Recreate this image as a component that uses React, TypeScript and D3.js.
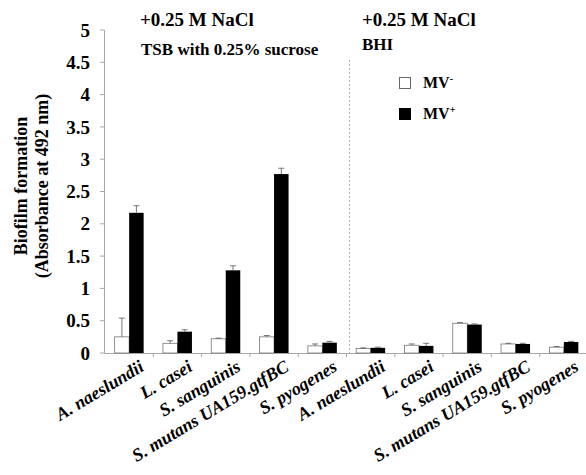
import React from "react";
import * as d3 from "d3";

const categories = [
  "A. naeslundii",
  "L. casei",
  "S. sanguinis",
  "S. mutans UA159.gtfBC",
  "S. pyogenes",
  "A. naeslundii",
  "L. casei",
  "S. sanguinis",
  "S. mutans UA159.gtfBC",
  "S. pyogenes",
];
const mvMinus = [0.25, 0.15, 0.22, 0.25, 0.11, 0.07, 0.12, 0.46, 0.14, 0.09];
const mvMinusErr = [0.29, 0.04, 0.01, 0.02, 0.03, 0.01, 0.02, 0.01, 0.01, 0.01];
const mvPlus = [2.17, 0.33, 1.28, 2.77, 0.16, 0.08, 0.11, 0.44, 0.14, 0.17];
const mvPlusErr = [0.11, 0.03, 0.07, 0.09, 0.02, 0.01, 0.04, 0.01, 0.01, 0.01];
const yTicks = [0, 0.5, 1, 1.5, 2, 2.5, 3, 3.5, 4, 4.5, 5];
const yTickLabels = ["0", "0.5", "1", "1.5", "2", "2.5", "3", "3.5", "4", "4.5", "5"];

const W = 586;
const H = 475;
const serif = '"Liberation Serif", "DejaVu Serif", "Times New Roman", serif';

export default function App() {
  const x = d3
    .scaleBand<number>()
    .domain(d3.range(categories.length))
    .range([105, 588])
    .paddingInner(0)
    .paddingOuter(0);
  const y = d3.scaleLinear().domain([0, 5]).range([353, 30]);
  const bw = x.bandwidth();
  const barW = 14.5;
  const axisGray = "#a8a8a8";

  const errBar = (cx: number, v: number, e: number, key: string) => (
    <g key={key} stroke="#555" strokeWidth={0.8}>
      <line x1={cx} x2={cx} y1={y(v)} y2={y(v + e)} />
      <line x1={cx - 3} x2={cx + 3} y1={y(v + e)} y2={y(v + e)} />
    </g>
  );

  return (
    <svg
      width={W}
      height={H}
      style={{ position: "absolute", left: 0, top: 0, background: "#fff", fontFamily: serif }}
    >
      {/* headers */}
      <text x={140} y={26} fontSize={19} fontWeight="bold">+0.25 M NaCl</text>
      <text x={141} y={55} fontSize={17} fontWeight="bold">TSB with 0.25% sucrose</text>
      <text x={362} y={26} fontSize={19} fontWeight="bold">+0.25 M NaCl</text>
      <text x={362} y={50} fontSize={17} fontWeight="bold">BHI</text>

      {/* y axis */}
      <line x1={104.5} x2={104.5} y1={y(5)} y2={y(0)} stroke={axisGray} strokeWidth={1} />
      {yTicks.map((t, i) => (
        <g key={"yt" + i}>
          <line x1={100} x2={104.5} y1={y(t)} y2={y(t)} stroke={axisGray} />
          <text
            x={90}
            y={y(t)}
            dy="0.35em"
            textAnchor="end"
            fontSize={19}
            fontWeight="bold"
          >
            {yTickLabels[i]}
          </text>
        </g>
      ))}

      {/* y axis title */}
      <g transform="translate(27,186) rotate(-90)" fontSize={18} fontWeight="bold">
        <text textAnchor="middle">Biofilm formation</text>
        <text y={21} textAnchor="middle">(Absorbance at 492 nm)</text>
      </g>

      {/* x axis */}
      <line x1={104.5} x2={W} y1={y(0) + 0.5} y2={y(0) + 0.5} stroke={axisGray} />
      {categories.map((_, i) => (
        <line
          key={"xt" + i}
          x1={(x(i) as number) + bw}
          x2={(x(i) as number) + bw}
          y1={y(0)}
          y2={y(0) + 4}
          stroke={axisGray}
        />
      ))}

      {/* divider between media */}
      <line
        x1={349.5}
        x2={349.5}
        y1={60}
        y2={y(0)}
        stroke="#b5b5b5"
        strokeDasharray="2,2"
      />

      {/* bars */}
      {categories.map((_, i) => {
        const cx = (x(i) as number) + bw / 2;
        return (
          <g key={"b" + i}>
            <rect
              x={cx - barW}
              y={y(mvMinus[i])}
              width={barW}
              height={y(0) - y(mvMinus[i])}
              fill="#fff"
              stroke="#777"
              strokeWidth={0.8}
            />
            <rect
              x={cx}
              y={y(mvPlus[i])}
              width={barW}
              height={y(0) - y(mvPlus[i])}
              fill="#000"
            />
            {errBar(cx - barW / 2, mvMinus[i], mvMinusErr[i], "em" + i)}
            {errBar(cx + barW / 2, mvPlus[i], mvPlusErr[i], "ep" + i)}
          </g>
        );
      })}

      {/* category labels */}
      {categories.map((c, i) => {
        const cx = (x(i) as number) + bw / 2;
        return (
          <text
            key={"xl" + i}
            transform={`translate(${cx + 16},${370}) rotate(-31)`}
            textAnchor="end"
            fontSize={18}
            fontWeight="bold"
            fontStyle="italic"
          >
            {c}
          </text>
        );
      })}

      {/* legend */}
      <rect x={399.5} y={77.5} width={11} height={11} fill="#fff" stroke="#666" />
      <text x={423} y={88} fontSize={16} fontWeight="bold">
        MV<tspan dy={-6} fontSize={10}>-</tspan>
      </text>
      <rect x={399} y={108} width={12} height={12} fill="#000" />
      <text x={423} y={119} fontSize={16} fontWeight="bold">
        MV<tspan dy={-6} fontSize={10}>+</tspan>
      </text>
    </svg>
  );
}
